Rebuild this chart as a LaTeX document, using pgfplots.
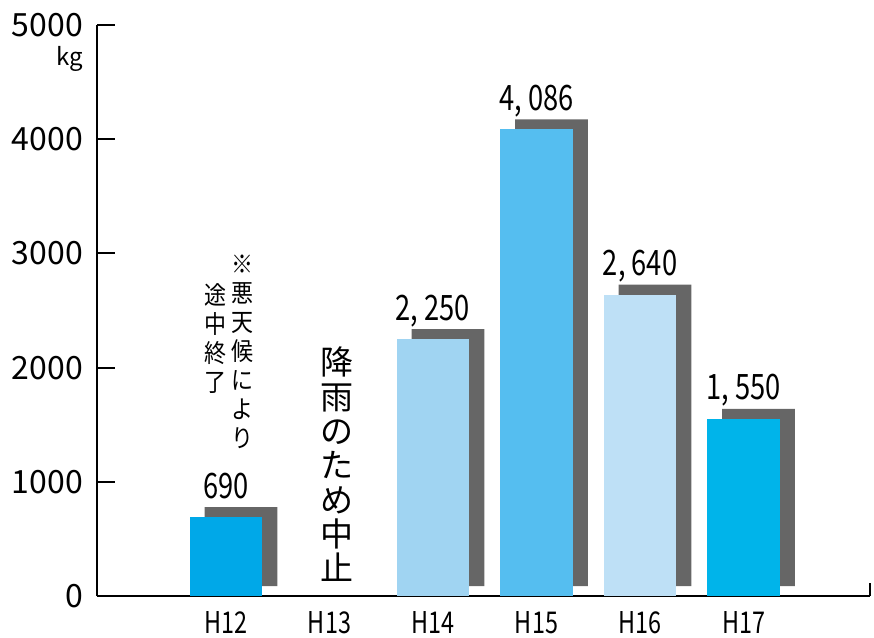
\documentclass[border=0pt]{standalone}
\usepackage{pgfplots}
\pgfplotsset{compat=1.18}
\usepackage{fontspec}
\setmainfont{Noto Sans CJK JP}
\newfontfamily\cond{Noto Sans CJK JP}[FakeStretch=0.78]
\newfontfamily\jpc{Noto Sans CJK JP}[FakeStretch=0.88]
\definecolor{shadowgray}{RGB}{102,102,102}
\definecolor{cA}{RGB}{0,168,232}
\definecolor{cB}{RGB}{160,212,242}
\definecolor{cC}{RGB}{85,190,240}
\definecolor{cD}{RGB}{190,224,246}
\definecolor{cE}{RGB}{0,180,234}
\begin{document}
\begin{tikzpicture}
\path[use as bounding box] (0,0) rectangle (874pt,637pt);
\begin{axis}[
  at={(97pt,41pt)}, anchor=south west,
  scale only axis, width=773pt, height=571pt,
  xmin=-1.246, xmax=6.222, ymin=0, ymax=5000,
  axis x line=bottom, axis y line=left,
  axis line style={-},
  x axis line style={line width=2.5pt},
  y axis line style={line width=2pt},
  xtick={0,...,5}, xticklabels={H12,H13,H14,H15,H16,H17},
  ytick={0,1000,...,5000},
  scaled y ticks=false,
  /pgf/number format/fixed,
  /pgf/number format/1000 sep={},
  /pgf/number format/assume math mode=true,
  tick align=inside,
  major tick length=18pt,
  x tick style={draw=none},
  y tick style={line width=2pt, black},
  yticklabel style={font=\fontsize{32}{32}\selectfont, anchor=east, inner sep=0pt, xshift=-14pt},
  xticklabel style={font=\cond\fontsize{30}{30}\selectfont, anchor=north, inner sep=0pt, yshift=-15pt},
  clip=false,
  nodes near coords={\pgfplotspointmeta},
  point meta=explicit symbolic,
  every node near coord/.append style={anchor=base, yshift=19pt, inner sep=0pt, font=\cond\fontsize{35}{35}\selectfont, text=black},
]
% shadows
\addplot[ybar, bar width=72.7pt, bar shift=15pt, yshift=10pt, fill=shadowgray, draw=none, nodes near coords={}]
  coordinates {(0,690) [{}] (2,2250) [{}] (3,4086) [{}] (4,2640) [{}] (5,1550) [{}]};
% bars
\addplot[ybar, bar width=72.7pt, bar shift=0pt, fill=cA, draw=none] coordinates {(0,690) [{690}]};
\addplot[ybar, bar width=72.7pt, bar shift=0pt, fill=cB, draw=none] coordinates {(2,2250) [{2, 250}]};
\addplot[ybar, bar width=72.7pt, bar shift=0pt, fill=cC, draw=none] coordinates {(3,4086) [{4, 086}]};
\addplot[ybar, bar width=72.7pt, bar shift=0pt, fill=cD, draw=none] coordinates {(4,2640) [{2, 640}]};
\addplot[ybar, bar width=72.7pt, bar shift=0pt, fill=cE, draw=none] coordinates {(5,1550) [{1, 550}]};
% right end tick on x axis
\draw[line width=2pt] (rel axis cs:1,0) -- ++(0pt,13pt);
% unit
\node[anchor=north east, inner sep=0pt, font=\fontsize{24}{24}\selectfont] at ([xshift=-14pt,yshift=-21pt]rel axis cs:0,1) {kg};
% notes
\node[anchor=north, align=center, inner sep=0pt, font=\jpc\fontsize{25}{29}\selectfont] at (axis cs:0.164,2986) {※\\悪\\天\\候\\に\\よ\\り};
\node[anchor=north, align=center, inner sep=0pt, font=\jpc\fontsize{25}{29}\selectfont] at (axis cs:-0.106,2741) {途\\中\\終\\了};
\node[anchor=north, align=center, inner sep=0pt, font=\fontsize{33}{34.3}\selectfont] at (axis cs:1.07,2180) {降\\雨\\の\\た\\め\\中\\止};
\end{axis}
\end{tikzpicture}
\end{document}
